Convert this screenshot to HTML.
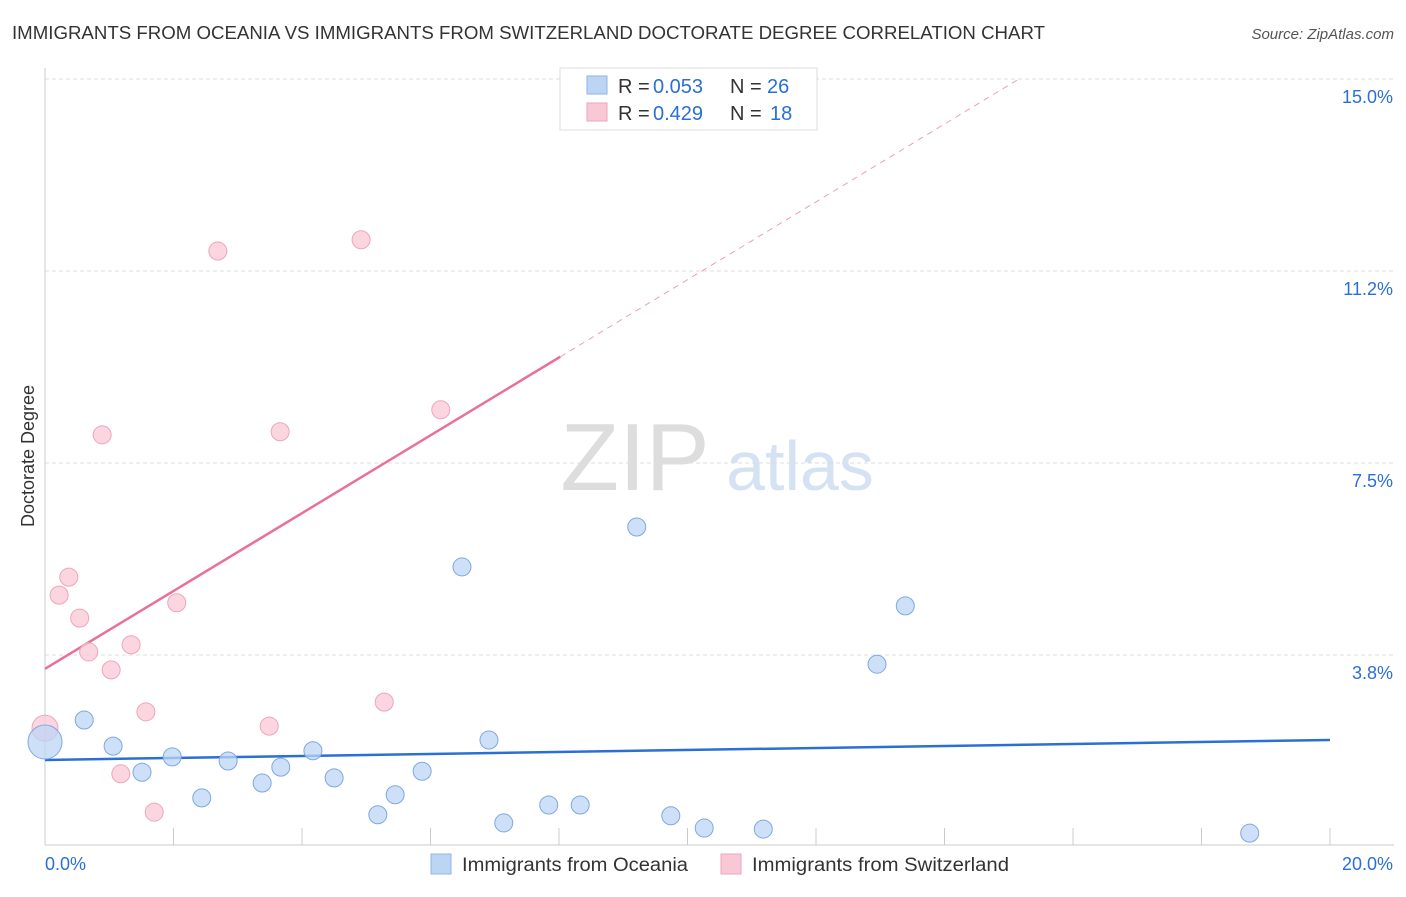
<!DOCTYPE html>
<html><head><meta charset="utf-8"><style>
body{margin:0;background:#fff;font-family:"Liberation Sans",sans-serif;}
svg text{font-family:"Liberation Sans",sans-serif;}
</style></head><body>
<svg id="chart" width="1406" height="892" xmlns="http://www.w3.org/2000/svg">
<text x="12" y="39" font-size="18" fill="#333" textLength="1033" lengthAdjust="spacingAndGlyphs">IMMIGRANTS FROM OCEANIA VS IMMIGRANTS FROM SWITZERLAND DOCTORATE DEGREE CORRELATION CHART</text>
<text x="1394" y="39" font-size="15" fill="#555" text-anchor="end" font-style="italic">Source: ZipAtlas.com</text>
<text x="34" y="456" font-size="18" fill="#333" text-anchor="middle" transform="rotate(-90 34 456)">Doctorate Degree</text>
<g><text x="635" y="490" font-size="96" fill="#ddd" text-anchor="middle" font-family="Liberation Serif">ZIP</text><text x="800" y="490" font-size="70" fill="#d4e2f4" text-anchor="middle">atlas</text></g>
<g id="grid"></g><g id="axes"></g><g id="lines"></g><g id="pts"></g>
<g>
<rect x="560" y="68" width="257" height="62" fill="#fff" stroke="#ddd"/>
<rect x="587" y="76" width="20" height="18" fill="#bcd5f5" stroke="#8fb4e6"/>
<text x="618" y="93" font-size="20" fill="#333">R = </text>
<text x="653" y="93" font-size="20" fill="#2a6fd6">0.053</text>
<text x="730" y="93" font-size="20" fill="#333">N = </text>
<text x="767" y="93" font-size="20" fill="#2a6fd6">26</text>
<rect x="587" y="103" width="20" height="18" fill="#f9c8d6" stroke="#eea5bb"/>
<text x="618" y="120" font-size="20" fill="#333">R = </text>
<text x="653" y="120" font-size="20" fill="#2a6fd6">0.429</text>
<text x="730" y="120" font-size="20" fill="#333">N = </text>
<text x="770" y="120" font-size="20" fill="#2a6fd6">18</text>
</g>
<g>
<rect x="431" y="854" width="20" height="20" fill="#bcd5f5" stroke="#8fb4e6"/>
<text x="462" y="871" font-size="19" fill="#333" textLength="226" lengthAdjust="spacingAndGlyphs">Immigrants from Oceania</text>
<rect x="721" y="854" width="20" height="20" fill="#f9c8d6" stroke="#eea5bb"/>
<text x="752" y="871" font-size="19" fill="#333" textLength="257" lengthAdjust="spacingAndGlyphs">Immigrants from Switzerland</text>
</g>
</svg>
<script>
const yTicks=[3.75,7.5,11.25,15];
const yTickLabels=["3.8%","7.5%","11.2%","15.0%"];
const blueX=[0,.61,1.06,1.51,1.98,2.44,2.85,3.38,3.67,4.17,4.50,5.18,5.45,5.87,6.49,6.91,7.14,7.84,8.33,9.21,9.74,10.26,11.18,12.95,13.39,18.75];
const blueY=[2.05,2.48,1.97,1.46,1.76,0.96,1.68,1.25,1.56,1.88,1.35,0.63,1.02,1.48,5.47,2.09,0.47,0.82,0.82,6.25,0.61,0.37,0.35,3.57,4.71,0.27];
const pinkX=[0,.37,.22,.54,.68,.89,1.03,1.34,1.57,1.70,1.18,2.05,2.69,3.49,3.66,4.92,5.28,6.16];
const pinkY=[2.32,5.27,4.92,4.47,3.81,8.05,3.46,3.95,2.64,0.68,1.43,4.77,11.64,2.36,8.11,11.86,2.83,8.54];
const blueLine=[1.70,2.09];
const pinkIntercept=3.48, pinkSlope=0.76, pinkSolidEnd=8.02, pinkDashEnd=15.16;
const NS="http://www.w3.org/2000/svg";
const X=v=>45+v*64.25, Y=v=>847-v*51.2;
function mk(t,a,p){const e=document.createElementNS(NS,t);for(const k in a)e.setAttribute(k,a[k]);document.getElementById(p).appendChild(e);return e;}
yTicks.forEach((t,i)=>{let l=mk('line',{x1:45,x2:1394,y1:Y(t),y2:Y(t),stroke:'#ddd','stroke-dasharray':'4,3'},'grid');


let tx=mk('text',{x:1393,y:Y(t)+24,'font-size':18,fill:'#2a6fd6','text-anchor':'end'},'axes');tx.textContent=yTickLabels[i];

});
let ax=mk('line',{x1:45,x2:1394,y1:845,y2:845,stroke:'#ccc'},'axes');


let ay=mk('line',{x1:45,x2:45,y1:68,y2:845,stroke:'#ccc'},'axes');


for(let i=0;i<=10;i++){let t=mk('line',{x1:X(i*2),x2:X(i*2),y1:828,y2:845,stroke:'#ccc'},'axes');

}
let l0=mk('text',{x:45,y:870,'font-size':18,fill:'#2a6fd6'},'axes');l0.textContent='0.0%';


let l1=mk('text',{x:1393,y:870,'font-size':18,fill:'#2a6fd6','text-anchor':'end'},'axes');l1.textContent='20.0%';


let bl=mk('line',{x1:X(0),y1:Y(blueLine[0]),x2:X(20),y2:Y(blueLine[1]),stroke:'#2a6fd6','stroke-width':2.5},'lines');


let ps=mk('line',{x1:X(0),y1:Y(pinkIntercept),x2:X(pinkSolidEnd),y2:Y(pinkIntercept+pinkSlope*pinkSolidEnd),stroke:'#e8709a','stroke-width':2.5},'lines');


let pd=mk('line',{x1:X(pinkSolidEnd),y1:Y(pinkIntercept+pinkSlope*pinkSolidEnd),x2:X(pinkDashEnd),y2:Y(pinkIntercept+pinkSlope*pinkDashEnd),stroke:'#eaa0b8','stroke-width':1,'stroke-dasharray':'6,5'},'lines');


pinkX.forEach((x,i)=>{let c=mk('circle',{cx:X(x),cy:Y(pinkY[i]),r:i==0?13:9,fill:'#f9c8d6','fill-opacity':0.75,stroke:'#eea5bb','stroke-width':1},'pts');

});
blueX.forEach((x,i)=>{let c=mk('circle',{cx:X(x),cy:Y(blueY[i]),r:i==0?17:9,fill:'#bcd5f5','fill-opacity':0.75,stroke:'#7fa8e0','stroke-width':1},'pts');

});
</script>
</body></html>
